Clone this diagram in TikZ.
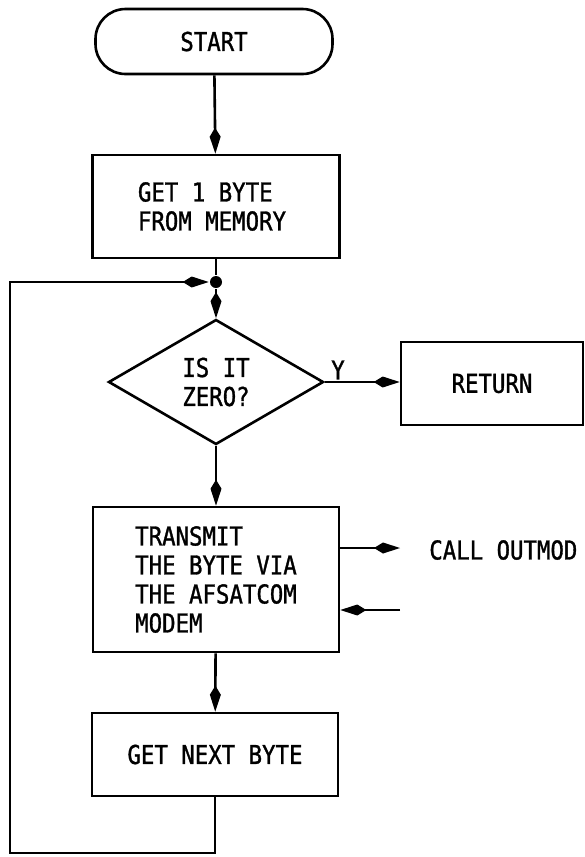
\documentclass[tikz,border=0pt]{standalone}
\usepackage{fontspec}
\newfontfamily\dfont[FakeStretch=0.86,FakeBold=1.2]{DejaVu Sans Mono}
\usetikzlibrary{shapes.geometric,arrows.meta}
\begin{document}
\begin{tikzpicture}[x=1pt,y=-1pt,
  line width=2.6pt,
  every node/.style={font=\dfont\fontsize{26}{29}\selectfont},
  box/.style={draw, rectangle, inner sep=0pt, align=left},
  arr/.style={-{Kite[length=26pt,width=11pt,inset=9pt]}},
  lbl/.style={inner sep=0pt},
]
\useasboundingbox (0,0) rectangle (585,857);
\node[draw, rectangle, rounded corners=30pt, minimum width=237pt, minimum height=65pt] (start) at (214,41.5) {START};
\node[box, minimum width=247pt, minimum height=103pt] (get1) at (216,206.5) {GET 1 BYTE\\FROM MEMORY\hspace*{8pt}};
\node[circle, fill, inner sep=0pt, minimum size=12pt] (jn) at (216,282) {};
\node[draw, diamond, aspect=1.72, minimum width=215pt, minimum height=125pt, inner sep=0pt, align=center] (dec) at (216,382) {IS IT\\ZERO?};
\node[box, minimum width=182pt, minimum height=83pt] (ret) at (492,383.5) {RETURN};
\node[box, minimum width=246pt, minimum height=145pt] (tx) at (216,579.5) {TRANSMIT\\THE BYTE VIA\\THE AFSATCOM\hspace*{16pt}\\MODEM};
\node[box, minimum width=246pt, minimum height=83pt] (next) at (215,754.5) {GET NEXT BYTE};
\node[lbl] (ylab) at (338,370) {Y};
\node[lbl, anchor=west] (call) at (428,550) {CALL OUTMOD};
\coordinate (co) at (400,548);
\coordinate (ri) at (400,610);
\coordinate (bl) at (10,853);

\draw[arr] (start) -- (get1);
\draw (get1) -- (jn);
\draw[arr] (jn) -- (dec);
\draw[arr] (dec.east) -- (ret.west |- dec.east);
\draw[arr] (dec.south) -- (tx.north);
\draw[arr] (tx.east |- co) -- (co);
\draw[arr] (ri) -- (tx.east |- ri);
\draw[arr] (tx) -- (next);
\draw[arr] (next.south) |- (bl) |- (jn);
\end{tikzpicture}
\end{document}
